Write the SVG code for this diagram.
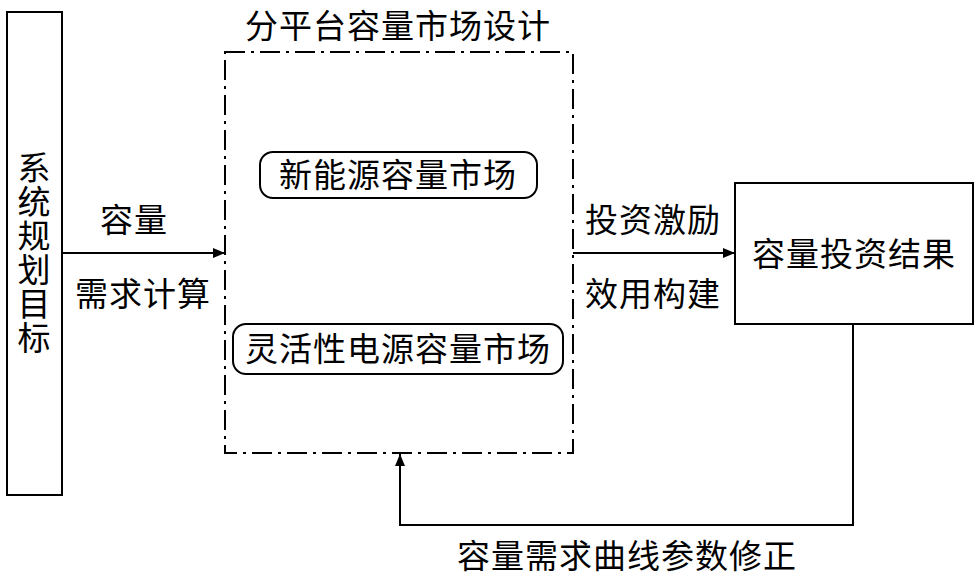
<svg xmlns="http://www.w3.org/2000/svg" width="975" height="577" viewBox="0 0 975 577">
<defs>
<style>
text{font-family:"Noto Sans CJK SC","Noto Sans CJK JP",sans-serif;font-size:33px;fill:#000;text-anchor:middle;letter-spacing:1px}
.vert{writing-mode:vertical-rl;glyph-orientation-vertical:0;letter-spacing:1px}
.box{fill:#fff;stroke:#000;stroke-width:2}
.dash{fill:none;stroke:#000;stroke-width:2;stroke-dasharray:20 6 3 6}
.line{fill:none;stroke:#000;stroke-width:2}
</style>
<marker id="arr" viewBox="0 0 12 10" refX="12" refY="5" markerWidth="12" markerHeight="10" markerUnits="userSpaceOnUse" orient="auto">
<path d="M0,0 L12,5 L0,10 Z" fill="#000"/>
</marker>
</defs>
<g id="goal">
<rect class="box" x="7" y="12" width="55" height="483"/>
<text class="vert" x="34" y="253">系统规划目标</text>
</g>
<g id="platform">
<text x="398" y="38">分平台容量市场设计</text>
<rect class="dash" x="225" y="52" width="348" height="401"/>
</g>
<g id="newenergy">
<rect class="box" x="260" y="152" width="277" height="46" rx="13"/>
<text x="398" y="187">新能源容量市场</text>
</g>
<g id="flexible">
<rect class="box" x="233" y="324" width="330" height="50" rx="13"/>
<text x="398" y="361">灵活性电源容量市场</text>
</g>
<g id="result">
<rect class="box" x="735" y="183" width="238" height="141"/>
<text x="854" y="266">容量投资结果</text>
</g>
<g id="connectors">
<line class="line" x1="62" y1="253" x2="225" y2="253" marker-end="url(#arr)"/>
<line class="line" x1="573" y1="253" x2="735" y2="253" marker-end="url(#arr)"/>
<polyline class="line" points="853,324 853,525 400,525 400,454" marker-end="url(#arr)"/>
<text x="134" y="232">容量</text>
<text x="143" y="306">需求计算</text>
<text x="653" y="232">投资激励</text>
<text x="653" y="306">效用构建</text>
<text x="627" y="568">容量需求曲线参数修正</text>
</g>
</svg>
